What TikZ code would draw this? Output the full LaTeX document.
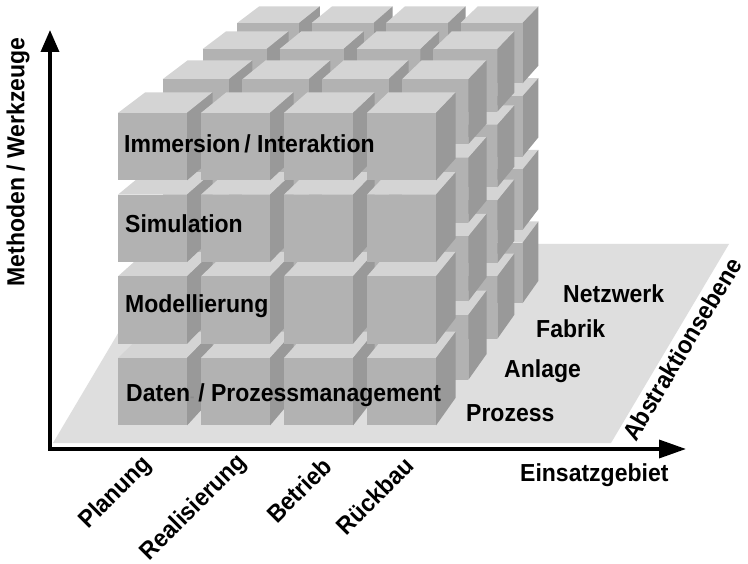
\documentclass[tikz,border=0pt]{standalone}
\usepackage{fontspec}
\usepackage{graphicx}
\setmainfont{Liberation Sans}
\usetikzlibrary{arrows.meta}
\definecolor{cubetop}{gray}{0.83}
\definecolor{cubefront}{gray}{0.70}
\definecolor{cubeside}{gray}{0.60}
\definecolor{planegray}{gray}{0.87}
\definecolor{dashgray}{gray}{0.55}
% labels are set slightly taller than the font's natural proportions
\newcommand\tallbox[1]{\scalebox{1}[1.07]{#1}}
\begin{document}
\begin{tikzpicture}[x=1pt,y=-1pt,
  lbl/.style={font=\fontsize{23}{27}\selectfont\bfseries, inner sep=0pt},
  axis/.style={line width=3.5pt, line join=miter,
    {Triangle[length=22pt,width=18pt]}-{Triangle[length=27pt,width=18pt]}}]
\useasboundingbox (0,0) rectangle (748,564);
\fill[white] (0,0) rectangle (748,564);

% ground plane
\fill[planegray] (53,443) -- (611,443) -- (729,244) -- (171,244) -- cycle;

% 4 x 4 x 4 block of cubes, back layers first; depth shrinks toward (1275,-760)
\foreach \wf in {0.115,0.079,0.04,0} {
  \foreach \j in {0,...,3} {
    \foreach \i in {0,...,3} {
      \pgfmathsetmacro\xa{118+83*\i}
      \pgfmathsetmacro\xb{\xa+69}
      \pgfmathsetmacro\ya{358-81.7*\j}
      \pgfmathsetmacro\yb{\ya+67.5}
      \pgfmathsetmacro\sf{1/(1+\wf)}
      \pgfmathsetmacro\sb{1/(1+\wf+0.024)}
      \coordinate (FTL) at ({1275+(\xa-1275)*\sf},{-760+(\ya+760)*\sf});
      \coordinate (FTR) at ({1275+(\xb-1275)*\sf},{-760+(\ya+760)*\sf});
      \coordinate (FBR) at ({1275+(\xb-1275)*\sf},{-760+(\yb+760)*\sf});
      \coordinate (FBL) at ({1275+(\xa-1275)*\sf},{-760+(\yb+760)*\sf});
      \coordinate (BTL) at ({1275+(\xa-1275)*\sb},{-760+(\ya+760)*\sb});
      \coordinate (BTR) at ({1275+(\xb-1275)*\sb},{-760+(\ya+760)*\sb});
      \coordinate (BBR) at ({1275+(\xb-1275)*\sb},{-760+(\yb+760)*\sb});
      \fill[cubetop] (FTL) -- (FTR) -- (BTR) -- (BTL) -- cycle;
      \fill[cubeside] (FTR) -- (FBR) -- (BBR) -- (BTR) -- cycle;
      \fill[cubefront] (FTL) -- (FTR) -- (FBR) -- (FBL) -- cycle;
    }
  }
}

% axes
\coordinate (O) at (50,449);
\coordinate (Ytip) at (50,30);
\coordinate (Xtip) at (686,449);
\draw[axis] (Ytip) -- (O) -- (Xtip);

% row labels on the front layer
\node[lbl, anchor=base west] (immersion) at (124,153) {\tallbox{Immersion\,/ Interaktion}};
\node[lbl, anchor=base west] (simulation) at (125,233) {\tallbox{Simulation}};
\node[lbl, anchor=base west] (modell) at (125,313) {\tallbox{Modellierung}};
\node[lbl, anchor=base west] (daten) at (126,402)
  {\tallbox{Daten\textcolor{dashgray}{\fontsize{13}{13}\selectfont -}\,/ Prozessmanagement}};

% abstraction levels on the plane
\node[lbl, anchor=base west] (netz) at (563,303) {\tallbox{Netzwerk}};
\node[lbl, anchor=base west] (fabrik) at (536,338) {\tallbox{Fabrik}};
\node[lbl, anchor=base west] (anlage) at (504,378) {\tallbox{Anlage}};
\node[lbl, anchor=base west] (prozess) at (466,421) {\tallbox{Prozess}};

% axis titles
\node[lbl, anchor=base west] (einsatz) at (520,482) {\tallbox{Einsatzgebiet}};
\node[lbl, rotate=90] (methoden) at (18,162) {\tallbox{Methoden / Werkzeuge}};
\node[lbl, rotate=59] (abstr) at (682,349) {\tallbox{Abstraktionsebene}};

% phases
\node[lbl, rotate=45] (planung) at (116,493) {\tallbox{Planung}};
\node[lbl, rotate=45] (real) at (194,508) {\tallbox{Realisierung}};
\node[lbl, rotate=45] (betrieb) at (299,490) {\tallbox{Betrieb}};
\node[lbl, rotate=45] (rueck) at (375,496) {\tallbox{Rückbau}};
\end{tikzpicture}
\end{document}
